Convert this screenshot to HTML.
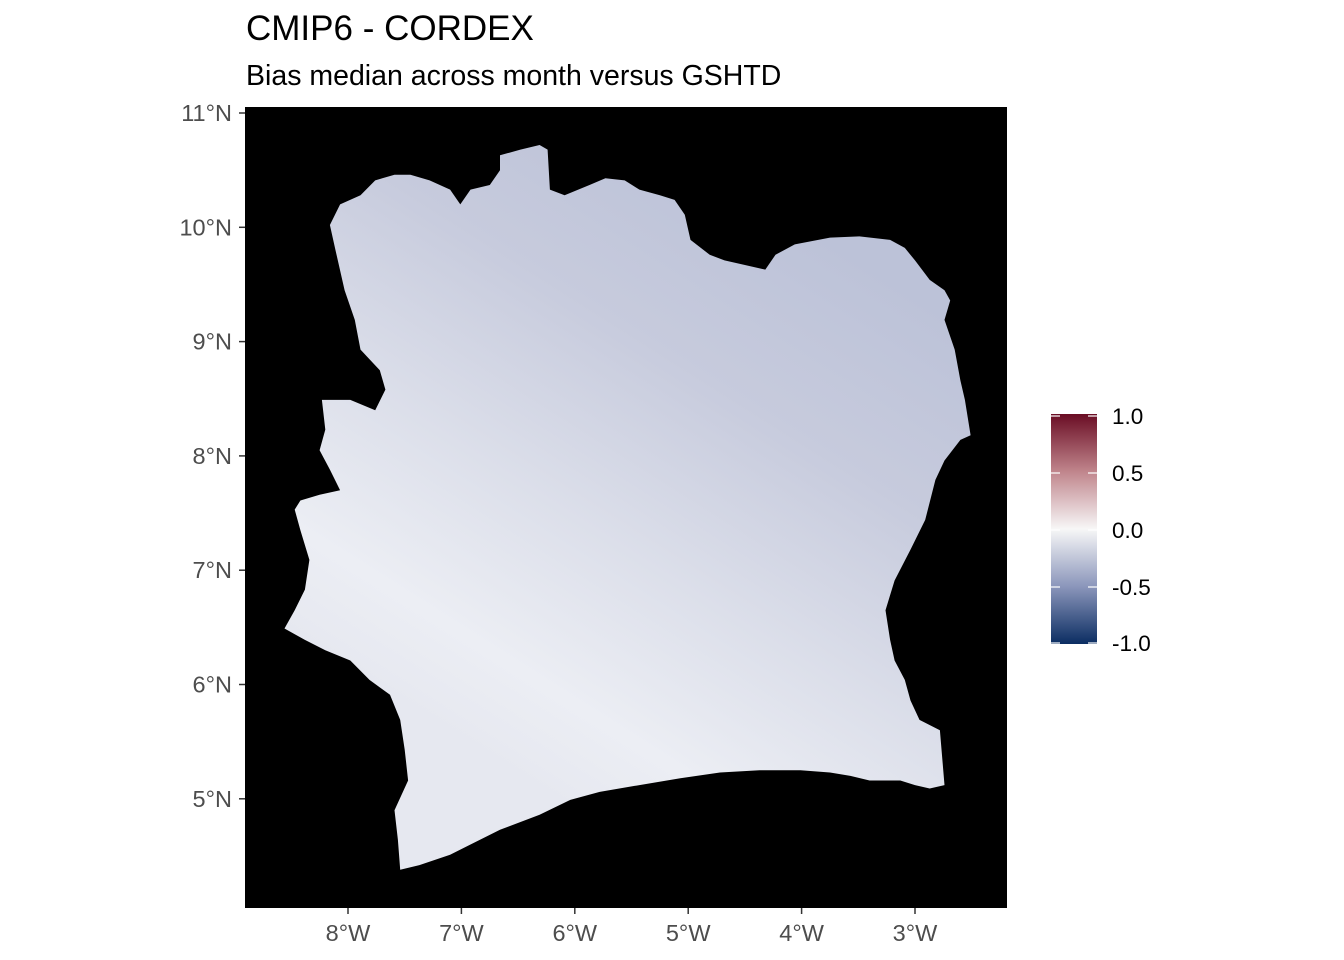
<!DOCTYPE html>
<html><head><meta charset="utf-8"><style>
html,body{margin:0;padding:0;background:#fff;}
svg{display:block;font-family:"Liberation Sans",sans-serif;}
</style></head><body>
<svg id="chart" width="1344" height="960" viewBox="0 0 1344 960">
<defs>
<linearGradient id="landGrad" x1="0.75" y1="0.1" x2="0.3" y2="0.85">
<stop offset="0" stop-color="#bcc2d8"/>
<stop offset="0.3" stop-color="#c7cbdd"/>
<stop offset="0.6" stop-color="#dcdfea"/>
<stop offset="0.85" stop-color="#eceef4"/>
<stop offset="1" stop-color="#e6e8f0"/>
</linearGradient>
<linearGradient id="cbGrad" x1="0" y1="0" x2="0" y2="1">
<stop offset="0" stop-color="#6a0d24"/>
<stop offset="0.25" stop-color="#c0858c"/>
<stop offset="0.5" stop-color="#f7f7f7"/>
<stop offset="0.75" stop-color="#8b96bb"/>
<stop offset="1" stop-color="#0b2d62"/>
</linearGradient>
</defs>
<text x="246" y="40" font-size="35" fill="#000">CMIP6 - CORDEX</text>
<text x="246" y="85" font-size="28.5" fill="#000">Bias median across month versus GSHTD</text>
<rect x="245" y="107" width="762" height="801" fill="#000"/>
<g id="land"></g>
<g id="axes"></g>
<g id="legend"></g>
</svg>
<script>
const lonTicks=[-8,-7,-6,-5,-4,-3];
const lonLabels=["8°W","7°W","6°W","5°W","4°W","3°W"];
const latTicks=[11,10,9,8,7,6,5];
const latLabels=["11°N","10°N","9°N","8°N","7°N","6°N","5°N"];
const cbTicks=[1.0,0.5,0.0,-0.5,-1.0];
const cbLabels=["1.0","0.5","0.0","-0.5","-1.0"];
const outlineLon=[-6.66,-6.48,-6.31,-6.24,-6.22,-6.09,-5.87,-5.73,-5.56,-5.43,-5.25,-5.12,-5.03,-4.98,-4.81,-4.68,-4.50,-4.32,-4.23,-4.06,-3.75,-3.49,-3.22,-3.09,-3.00,-2.87,-2.74,-2.69,-2.74,-2.65,-2.60,-2.56,-2.51,-2.60,-2.74,-2.82,-2.91,-3.04,-3.18,-3.26,-3.22,-3.18,-3.09,-3.04,-2.96,-2.78,-2.74,-2.87,-3.00,-3.13,-3.40,-3.57,-3.75,-4.01,-4.37,-4.72,-5.07,-5.43,-5.78,-6.04,-6.31,-6.66,-6.92,-7.10,-7.37,-7.54,-7.56,-7.59,-7.47,-7.50,-7.54,-7.63,-7.81,-7.98,-8.20,-8.38,-8.56,-8.47,-8.38,-8.34,-8.42,-8.47,-8.42,-8.25,-8.07,-8.16,-8.25,-8.20,-8.23,-7.98,-7.76,-7.67,-7.72,-7.89,-7.94,-8.03,-8.11,-8.16,-8.07,-7.89,-7.76,-7.59,-7.45,-7.28,-7.10,-7.01,-6.92,-6.75,-6.66];
const outlineLat=[10.63,10.68,10.72,10.68,10.33,10.28,10.37,10.43,10.41,10.33,10.28,10.24,10.11,9.89,9.76,9.71,9.67,9.63,9.76,9.85,9.91,9.92,9.89,9.82,9.71,9.54,9.45,9.36,9.19,8.93,8.66,8.49,8.18,8.14,7.96,7.79,7.44,7.18,6.91,6.65,6.39,6.21,6.04,5.86,5.69,5.60,5.12,5.09,5.12,5.16,5.16,5.20,5.23,5.25,5.25,5.23,5.18,5.12,5.06,4.99,4.86,4.73,4.60,4.51,4.42,4.38,4.64,4.90,5.16,5.43,5.69,5.91,6.04,6.21,6.30,6.39,6.49,6.65,6.83,7.09,7.35,7.53,7.61,7.66,7.70,7.88,8.05,8.23,8.49,8.49,8.40,8.58,8.75,8.93,9.19,9.45,9.80,10.02,10.20,10.28,10.41,10.46,10.46,10.41,10.33,10.20,10.33,10.37,10.50];
const NS="http://www.w3.org/2000/svg";
const xScale=lon=>348+(lon+8)*113.4;
const yScale=lat=>113+(11-lat)*114.3;
const cbY=v=>416+(1-v)*114;
function mk(tag,attrs,parent){const e=document.createElementNS(NS,tag);for(const k in attrs)e.setAttribute(k,attrs[k]);parent.appendChild(e);return e;}
const land=document.getElementById('land');
const pts=outlineLon.map((lo,i)=>xScale(lo).toFixed(1)+','+yScale(outlineLat[i]).toFixed(1)).join(' ');
const poly=mk('polygon',{points:pts,fill:'url(#landGrad)'},land);


const axes=document.getElementById('axes');
lonTicks.forEach((t,i)=>{
 const x=xScale(t);
 const tk=mk('line',{x1:x,y1:908,x2:x,y2:914,stroke:'#333','stroke-width':1.5},axes);
 
 
 const tx=mk('text',{x:x,y:941,'font-size':23.5,fill:'#4d4d4d','text-anchor':'middle'},axes);
 tx.textContent=lonLabels[i];
 
 
});
latTicks.forEach((t,i)=>{
 const y=yScale(t);
 const tk=mk('line',{x1:239,y1:y,x2:245,y2:y,stroke:'#333','stroke-width':1.5},axes);
 
 
 const tx=mk('text',{x:232,y:y+8,'font-size':23.5,fill:'#4d4d4d','text-anchor':'end'},axes);
 tx.textContent=latLabels[i];
 
 
});
const lg=document.getElementById('legend');
const bar=mk('rect',{x:1051,y:414,width:46,height:230,fill:'url(#cbGrad)'},lg);


cbTicks.forEach((v,i)=>{
 const y=Math.min(Math.max(cbY(v),416),643);
 mk('line',{x1:1051,y1:y,x2:1060,y2:y,stroke:'#fff','stroke-width':1.2},lg);
 mk('line',{x1:1088,y1:y,x2:1097,y2:y,stroke:'#fff','stroke-width':1.2},lg);
 const tx=mk('text',{x:1112,y:y+8,'font-size':22.5,fill:'#000'},lg);
 tx.textContent=cbLabels[i];
 
 
});
</script>
</body></html>
